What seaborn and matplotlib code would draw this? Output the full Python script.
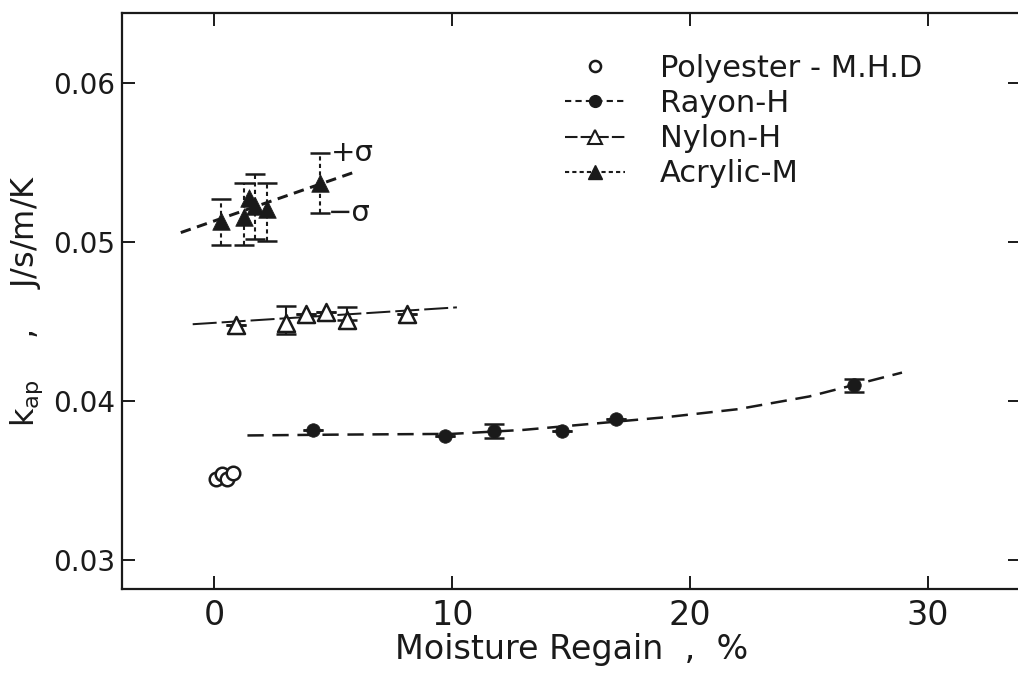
import numpy as np
import pandas as pd
import matplotlib
matplotlib.use("Agg")
import matplotlib.pyplot as plt
import seaborn as sns
from matplotlib.lines import Line2D

# ---------------- data ----------------
poly_x = [0.1, 0.35, 0.55, 0.8]
poly_y = [0.0351, 0.0354, 0.0351, 0.0355]

rayon_x = [4.15, 9.7, 11.76, 14.6, 16.9, 26.9]
rayon_y = [0.0382, 0.0378, 0.0381, 0.0381, 0.0389, 0.0410]
rayon_err = [0.0, 0.0, 0.00044, 0.0, 0.0, 0.0004]
rayon_fit_x = [1.4, 5.0, 10.0, 13.0, 16.0, 19.0, 22.0, 25.0, 28.9]
rayon_fit_y = [0.03785, 0.0379, 0.03795, 0.0382, 0.0386, 0.0390, 0.0395, 0.0403, 0.0418]

nylon_x = [0.9, 3.0, 3.85, 4.7, 5.6, 8.1]
nylon_y = [0.0448, 0.0449, 0.0455, 0.0456, 0.0451, 0.0455]
nylon_err_lo = [0.0, 0.0007, 0.0, 0.0, 0.0, 0.0]
nylon_err_hi = [0.0, 0.0011, 0.0, 0.0, 0.0008, 0.0]
nylon_fit_x = [-0.9, 10.2]
nylon_fit_y = [0.04484, 0.0459]

acryl_x = [0.3, 1.27, 1.47, 1.72, 2.21, 4.45]
acryl_y = [0.0513, 0.0516, 0.05275, 0.0523, 0.0521, 0.0537]
acryl_top = [0.0527, 0.0537, np.nan, 0.0543, 0.0537, 0.0556]
acryl_bot = [0.0498, 0.0498, np.nan, 0.0502, 0.0501, 0.0518]
acryl_fit_x = [-1.4, 5.9]
acryl_fit_y = [0.0506, 0.0544]

x_ticks = [0, 10, 20, 30]
x_tick_labels = ["0", "10", "20", "30"]
y_ticks = [0.03, 0.04, 0.05, 0.06]
y_tick_labels = ["0.03", "0.04", "0.05", "0.06"]

legend_labels = ["Polyester - M.H.D", "Rayon-H", "Nylon-H", "Acrylic-M"]

# ---------------- style ----------------
sns.set_theme(style="ticks")
plt.rcParams["font.family"] = ["DejaVu Sans"]
plt.rcParams["axes.linewidth"] = 1.6
narrow = ["Liberation Sans Narrow", "DejaVu Sans"]

W, H = 1018, 681
fig = plt.figure(figsize=(W / 100, H / 100), dpi=100)
L, R, T, B = 122, 1021, 13, 589
ax = fig.add_axes([L / W, (H - B) / H, (R - L) / W, (B - T) / H])
ax.set_facecolor("white")
fig.patch.set_facecolor("white")

lw = 1.8
# fitted lines
sns.lineplot(x=rayon_fit_x, y=rayon_fit_y, ax=ax, color="k", lw=lw,
             sort=False, estimator=None)
ax.lines[-1].set_dashes((6.5, 3.5))
sns.lineplot(x=nylon_fit_x, y=nylon_fit_y, ax=ax, color="k", lw=lw * 0.8,
             sort=False, estimator=None)
ax.lines[-1].set_dashes((12, 2.5))
sns.lineplot(x=acryl_fit_x, y=acryl_fit_y, ax=ax, color="k", lw=lw * 1.2,
             sort=False, estimator=None)
ax.lines[-1].set_dashes((3.5, 2.2))

# error bars
ax.errorbar(rayon_x, rayon_y, yerr=[rayon_err, rayon_err], fmt="none",
            ecolor="k", elinewidth=1.5, capsize=7, capthick=1.8)
ax.errorbar(nylon_x, nylon_y, yerr=[nylon_err_lo, nylon_err_hi], fmt="none",
            ecolor="k", elinewidth=1.5, capsize=7, capthick=1.8)
acr_lo = [y - b for y, b in zip(acryl_y, acryl_bot)]
acr_hi = [t - y for y, t in zip(acryl_y, acryl_top)]
eb = ax.errorbar(acryl_x, acryl_y, yerr=[acr_lo, acr_hi], fmt="none",
                 ecolor="k", elinewidth=1.5, capsize=7, capthick=1.8)
for col in eb.lines[2]:
    col.set_linestyle((0, (2, 1.6)))

# markers
sns.scatterplot(x=poly_x, y=poly_y, ax=ax, marker="o", s=95, facecolor="white",
                edgecolor="k", linewidth=1.8, zorder=5)
sns.scatterplot(x=rayon_x, y=rayon_y, ax=ax, marker="o", s=95, color="k",
                edgecolor="k", linewidth=0.5, zorder=5)
sns.scatterplot(x=nylon_x, y=nylon_y, ax=ax, marker="^", s=150, facecolor="white",
                edgecolor="k", linewidth=1.8, zorder=5)
sns.scatterplot(x=acryl_x, y=acryl_y, ax=ax, marker="^", s=160, color="k",
                edgecolor="k", linewidth=0.5, zorder=5)

# sigma labels
ax.text(5.8, 0.05558, "+σ", ha="center", va="center", fontsize=21, color="k")
ax.text(5.67, 0.05182, "−σ", ha="center", va="center", fontsize=21, color="k")

# axes
ax.set_xlim(-3.87, 33.9)
ax.set_ylim(0.0282, 0.0644)
ax.set_xticks(x_ticks)
ax.set_xticklabels(x_tick_labels, fontfamily=narrow, fontsize=24)
ax.set_yticks(y_ticks)
ax.set_yticklabels(y_tick_labels, fontsize=20)
ax.tick_params(direction="in", length=9.5, width=1.4, top=True, right=True,
               colors="k")
ax.tick_params(axis="x", pad=7)
ax.tick_params(axis="y", pad=5)
for s in ax.spines.values():
    s.set_color("k")
    s.set_linewidth(1.6)

ax.set_xlabel("Moisture Regain  ,  %", fontfamily=narrow, fontsize=24,
              labelpad=1, color="k")
ax.set_ylabel(r"$\mathregular{k_{ap}}$    ,    J/s/m/K", fontsize=23,
              labelpad=6, color="k")

# legend
handles = [
    Line2D([], [], ls="none", marker="o", ms=8, mfc="white", mec="k", mew=1.8),
    Line2D([], [], color="k", lw=1.5, ls=(0, (3, 2)), marker="o", ms=8.5, mfc="k", mec="k"),
    Line2D([], [], color="k", lw=1.5, ls=(0, (6, 1.5)), marker="^", ms=10, mfc="white", mec="k", mew=1.5),
    Line2D([], [], color="k", lw=1.5, ls=(0, (2, 1.5)), marker="^", ms=10, mfc="k", mec="k"),
]
leg = fig.legend(handles, legend_labels, loc="upper left",
                 bbox_to_anchor=(565 / W, 1 - 54 / H), frameon=False,
                 fontsize=22, handlelength=1.95, handletextpad=1.15,
                 labelspacing=0.2, borderpad=0, borderaxespad=0)
for t in leg.get_texts():
    t.set_color("k")

fig.savefig("out.png", dpi=100, facecolor="white")
